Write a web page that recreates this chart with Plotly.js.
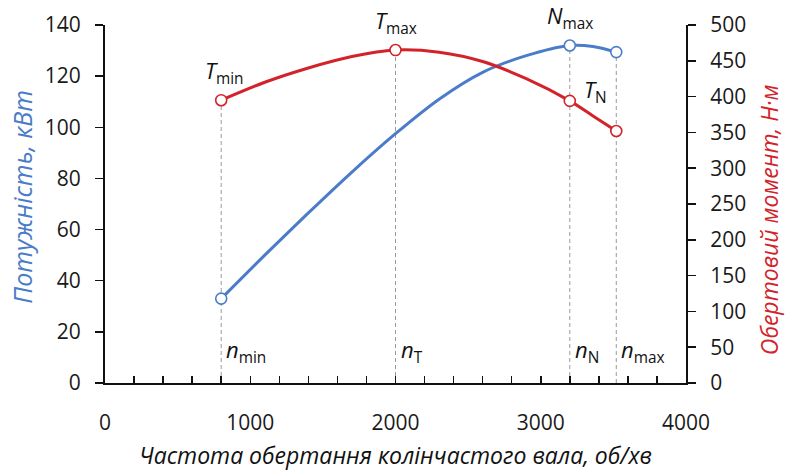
<!DOCTYPE html>
<html><head><meta charset="utf-8">
<script src="https://cdn.plot.ly/plotly-3.0.1.min.js"></script>
<style>body{margin:0;background:#fff}</style></head>
<body><div id="chart" style="width:787px;height:474px"></div>
<script>
// ---- data ----
const rpmCurve    = [800, 1100, 1400, 1700, 2000, 2300, 2600, 2900, 3200, 3360, 3520];
const powerCurve  = [33, 50, 66.5, 82.5, 97.5, 111, 121.5, 128, 132, 131.6, 129.4];
const torqueCurve = [395, 420, 440, 456, 465, 462, 449, 425, 394, 373, 352];

const rpmPowerKey  = [800, 3200, 3520];
const powerKey     = [33, 132, 129.4];
const rpmTorqueKey = [800, 2000, 3200, 3520];
const torqueKey    = [395, 465, 394, 352];

const guideRpm = [800, 2000, 3200, 3520];
const pointLabels = ['<i>T</i><sub>min</sub>', '<i>T</i><sub>max</sub>', '<i>N</i><sub>max</sub>', '<i>T</i><sub>N</sub>'];
const speedLabels = ['<i>n</i><sub>min</sub>', '<i>n</i><sub>T</sub>', '<i>n</i><sub>N</sub>', '<i>n</i><sub>max</sub>'];

const xTitle  = 'Частота обертання колінчастого вала, об/хв';
const y1Title = 'Потужність, кВт';
const y2Title = 'Обертовий момент, Н·м';

const P_MAX = 140, T_MAX = 500;
const BLUE = '#4a7cc9', RED = '#d2232a';
const FONT = 'Open Sans, sans-serif';

const traces = [
  {x: rpmCurve, y: powerCurve, type: 'scatter', mode: 'lines', yaxis: 'y',
   line: {color: BLUE, width: 3, shape: 'spline', smoothing: 0.8}, hoverinfo: 'skip'},
  {x: rpmCurve, y: torqueCurve, type: 'scatter', mode: 'lines', yaxis: 'y2',
   line: {color: RED, width: 3, shape: 'spline', smoothing: 0.8}, hoverinfo: 'skip'},
  {x: rpmPowerKey, y: powerKey, type: 'scatter', mode: 'markers', yaxis: 'y',
   marker: {symbol: 'circle', size: 11, color: '#fff', line: {color: BLUE, width: 1.6}}},
  {x: rpmTorqueKey, y: torqueKey, type: 'scatter', mode: 'markers', yaxis: 'y2',
   marker: {symbol: 'circle', size: 11, color: '#fff', line: {color: RED, width: 1.6}}}
];

function valAt(xs, ys, x) { const i = xs.indexOf(x); return i >= 0 ? ys[i] : 0; }

const shapes = guideRpm.map(r => {
  const top = Math.max(valAt(rpmCurve, powerCurve, r) / P_MAX, valAt(rpmCurve, torqueCurve, r) / T_MAX);
  return {type: 'line', xref: 'x', yref: 'paper', x0: r, x1: r, y0: 0, y1: top,
          line: {color: '#9a9a9a', width: 1, dash: '4px,3px'}, layer: 'below'};
});

const annotations = [];
const ptDefs = [
  {x: 800, y: valAt(rpmTorqueKey, torqueKey, 800), yref: 'y2', xanchor: 'center', yanchor: 'bottom', xshift: 3, yshift: 9},
  {x: 2000, y: valAt(rpmTorqueKey, torqueKey, 2000), yref: 'y2', xanchor: 'center', yanchor: 'bottom', xshift: 0, yshift: 9},
  {x: 3200, y: valAt(rpmPowerKey, powerKey, 3200), yref: 'y', xanchor: 'center', yanchor: 'bottom', xshift: 0, yshift: 9},
  {x: 3200, y: valAt(rpmTorqueKey, torqueKey, 3200), yref: 'y2', xanchor: 'left', yanchor: 'middle', xshift: 12, yshift: 10}
];
ptDefs.forEach((d, i) => annotations.push(Object.assign({
  text: pointLabels[i], xref: 'x', showarrow: false,
  font: {family: FONT, size: 22, color: '#111'}}, d)));
guideRpm.forEach((r, i) => annotations.push({
  text: speedLabels[i], x: r, y: 0, xref: 'x', yref: 'y', showarrow: false,
  xanchor: 'left', yanchor: 'bottom', xshift: 3, yshift: 13,
  font: {family: FONT, size: 22, color: '#111'}}));
annotations.push({text: '<i>' + xTitle + '</i>', xref: 'paper', yref: 'paper', x: 0.5, y: -0.2,
  xanchor: 'center', yanchor: 'middle', showarrow: false, font: {family: FONT, size: 23, color: '#111'}});
annotations.push({text: '<i>' + y1Title + '</i>', xref: 'paper', yref: 'paper', x: -0.143, y: 0.52,
  xanchor: 'center', yanchor: 'middle', textangle: -90, showarrow: false, font: {family: FONT, size: 25, color: BLUE}});
annotations.push({text: '<i>' + y2Title + '</i>', xref: 'paper', yref: 'paper', x: 1.143, y: 0.455,
  xanchor: 'center', yanchor: 'middle', textangle: -90, showarrow: false, font: {family: FONT, size: 23, color: RED}});

const tickFont = {family: FONT, size: 21, color: '#1a1a1a'};
const layout = {
  width: 787, height: 474,
  margin: {l: 105, r: 101, t: 25, b: 91},
  paper_bgcolor: '#fff', plot_bgcolor: '#fff',
  showlegend: false,
  font: {family: FONT},
  xaxis: {range: [0, 4000], dtick: 1000, tick0: 0, showgrid: false, zeroline: false,
          showline: true, linecolor: '#111', linewidth: 2,
          ticks: 'inside', ticklen: 7, tickwidth: 1.5, tickcolor: '#111',
          minor: {dtick: 200, ticks: 'inside', ticklen: 7, tickwidth: 1.5, tickcolor: '#111', showgrid: false},
          tickfont: tickFont, ticklabelstandoff: 20},
  yaxis: {range: [0, P_MAX], dtick: 20, showgrid: false, zeroline: false,
          showline: true, linecolor: '#111', linewidth: 2,
          ticks: 'outside', ticklen: 8, tickwidth: 1.5, tickcolor: '#111',
          tickfont: tickFont, ticklabelstandoff: 10},
  yaxis2: {range: [0, T_MAX], dtick: 50, overlaying: 'y', side: 'right', showgrid: false, zeroline: false,
           showline: true, linecolor: '#111', linewidth: 2,
           ticks: 'outside', ticklen: 8, tickwidth: 1.5, tickcolor: '#111',
           tickfont: tickFont, ticklabelstandoff: 10},
  shapes: shapes,
  annotations: annotations
};

Plotly.newPlot('chart', traces, layout, {displayModeBar: false, staticPlot: true});
</script>
</body></html>
